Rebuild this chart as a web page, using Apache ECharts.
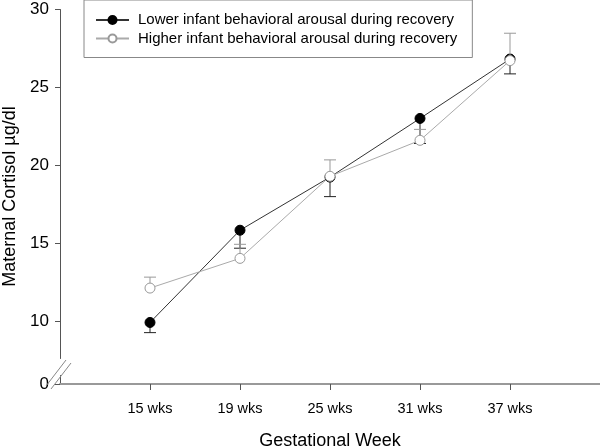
<!DOCTYPE html>
<html>
<head>
<meta charset="utf-8">
<script src="https://cdn.jsdelivr.net/npm/echarts@6/dist/echarts.min.js"></script>
<style>html,body{margin:0;padding:0;background:#fff}#c{width:600px;height:446px}</style>
</head>
<body>
<div id="c"></div>
<script>
const categories = ['15 wks', '19 wks', '25 wks', '31 wks', '37 wks'];
const lowerName = 'Lower infant behavioral arousal during recovery';
const higherName = 'Higher infant behavioral arousal during recovery';
const lowerMean = [9.95, 15.85, 19.25, 23.0, 26.8];
const higherMean = [12.15, 14.05, 19.3, 21.6, 26.7];
const lowerErrEnd = [9.3, 14.7, 18.0, 21.4, 25.85];
const higherErrEnd = [12.85, 14.95, 20.35, 22.3, 28.45];
const yTicks = [0, 10, 15, 20, 25, 30];

const FONT = '"Liberation Sans", Arial, sans-serif';
const axisCats = [''].concat(categories, ['']);
const pad = arr => [null].concat(arr, [null]);

function errSeries(means, ends, color, z) {
  return {
    type: 'custom', z: z, silent: true,
    data: means.map((m, i) => [i + 1, m, ends[i]]),
    renderItem: function (params, api) {
      const x = api.value(0);
      const a = api.coord([x, api.value(1)]);
      const b = api.coord([x, api.value(2)]);
      const hw = 6;
      return {
        type: 'group', children: [
          { type: 'line', shape: { x1: a[0], y1: a[1], x2: b[0], y2: b[1] }, style: { stroke: color, lineWidth: 1 } },
          { type: 'line', shape: { x1: b[0] - hw, y1: b[1], x2: b[0] + hw, y2: b[1] }, style: { stroke: color, lineWidth: 1 } }
        ]
      };
    }
  };
}

const chart = echarts.init(document.getElementById('c'), null, { renderer: 'canvas' });
chart.setOption({
  animation: false,
  backgroundColor: '#fff',
  textStyle: { fontFamily: FONT },
  grid: { left: 60, right: 0, top: 9, bottom: 62, outerBoundsMode: 'none', containLabel: false },
  legend: {
    data: [lowerName, higherName],
    orient: 'vertical',
    left: 84, top: 0,
    padding: [12, 15, 11, 11],
    itemWidth: 33, itemHeight: 10, itemGap: 2.5,
    borderColor: '#888', borderWidth: 1,
    backgroundColor: '#fff',
    textStyle: { fontFamily: FONT, fontSize: 15, color: '#000', lineHeight: 16, padding: [0, 0, 0, 4] }
  },
  xAxis: {
    type: 'category', data: axisCats, boundaryGap: false,
    name: 'Gestational Week', nameLocation: 'middle', nameGap: 48,
    nameTextStyle: { fontFamily: FONT, fontSize: 18, color: '#000' },
    axisLine: { lineStyle: { color: '#999', width: 2 } },
    axisTick: { length: 6, lineStyle: { color: '#555' }, interval: (i, v) => v !== '' },
    axisLabel: { fontFamily: FONT, fontSize: 14.5, color: '#000', margin: 17, interval: (i, v) => v !== '' }
  },
  yAxis: {
    type: 'value', min: 0, max: 30,
    name: 'Maternal Cortisol µg/dl', nameLocation: 'middle', nameGap: 40,
    nameTextStyle: { fontFamily: FONT, fontSize: 18, color: '#000' },
    axisLine: { show: true, lineStyle: { color: '#555', width: 1 } },
    axisTick: { show: true, length: 5, lineStyle: { color: '#555' }, customValues: yTicks },
    axisLabel: { fontFamily: FONT, fontSize: 17, color: '#000', margin: 11, customValues: yTicks },
    splitLine: { show: false },
    breaks: [{ start: 0.575, end: 7.68, gap: 1.09 }],
    breakArea: { show: false }
  },
  series: [
    errSeries(lowerMean, lowerErrEnd, '#222', 1),
    {
      type: 'line', name: lowerName, data: pad(lowerMean), z: 2,
      symbol: 'circle', symbolSize: 10, showSymbol: true,
      lineStyle: { color: '#333', width: 1 },
      itemStyle: { color: '#000', borderColor: '#000', borderWidth: 1 }
    },
    errSeries(higherMean, higherErrEnd, '#999', 3),
    {
      type: 'line', name: higherName, data: pad(higherMean), z: 4,
      symbol: 'circle', symbolSize: 10, showSymbol: true,
      lineStyle: { color: '#aaa', width: 1 },
      itemStyle: { color: '#fff', borderColor: '#999', borderWidth: 1 }
    }
  ],
  graphic: [
    { type: 'line', shape: { x1: 46, y1: 386, x2: 66, y2: 360 }, style: { stroke: '#888', lineWidth: 1 }, z: 101 },
    { type: 'line', shape: { x1: 51, y1: 389, x2: 71, y2: 363 }, style: { stroke: '#888', lineWidth: 1 }, z: 101 }
  ]
});
</script>
</body>
</html>
